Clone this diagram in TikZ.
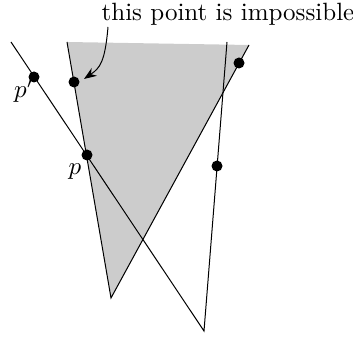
\documentclass[tikz,border=0pt]{standalone}
\usetikzlibrary{arrows.meta}
\tikzset{dot/.style={circle,fill,inner sep=0pt,minimum size=4.4pt}}
\begin{document}
\begin{tikzpicture}[x=0.4pt,y=-0.4pt,>={Stealth[length=5pt]}]
  \useasboundingbox (0,0) rectangle (353,337);
  % shaded wedge
  \coordinate (wl) at (67,42); \coordinate (wr) at (249,45); \coordinate (wb) at (111,298);
  \fill[black!20] (wl) -- (wr) -- (wb) -- cycle;
  \draw (wl) -- (wb) -- (wr);
  % the two lines
  \coordinate (a) at (11,42); \coordinate (v) at (204,331); \coordinate (c) at (227,42);
  \draw (a) -- (v) -- (c);
  % points
  \foreach \n/\x/\y in {pp/34/77,q/74/82,p/87/155,r/239/63,s/217/166}
    \node[dot] (\n) at (\x,\y) {};
  \node (lpp) at (24,91) {$p'$};
  \node (lp) at (75,172) {$p$};
  \node[inner sep=0pt] (txt) at (228,14) {this point is impossible};
  \coordinate (from) at (108,27); \coordinate (tip) at (84,79);
  \draw[->] (from) .. controls (105,62) and (100,68) .. (tip);
\end{tikzpicture}
\end{document}
